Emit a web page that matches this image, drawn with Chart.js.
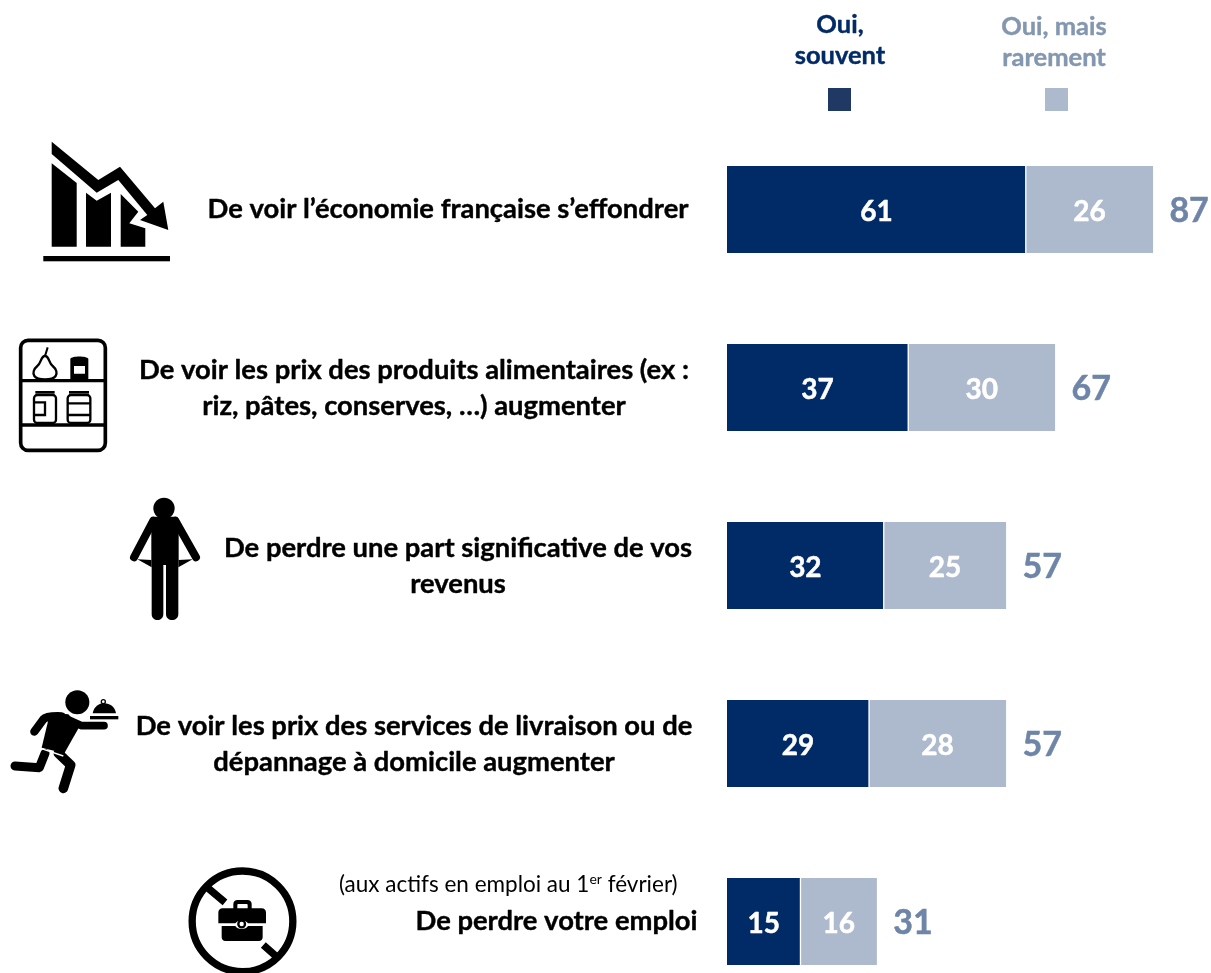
<!DOCTYPE html>
<html><head><meta charset="utf-8">
<style>html,body{margin:0;padding:0;background:#fff;overflow:hidden}#w{position:relative;width:1211px;height:973px}canvas{position:absolute;left:0;top:0}svg{position:absolute;left:0;top:0}</style>
<script src="https://cdn.jsdelivr.net/npm/chart.js@4"></script></head><body>
<div id="w"><canvas id="c" width="1211" height="973"></canvas>
<svg width="1211" height="973" viewBox="0 0 1211 973" fill="#000">
<!-- icon 1 -->
<polygon points="51.7,141.7 98.3,180 120,166.7 155,208.3 163.3,201.7 168.3,230 140,220 147.3,215 118.3,180 96.7,192.7 51.7,154"/>
<polygon points="51.7,163.3 76.7,183 76.7,246.7 51.7,246.7"/>
<polygon points="86,192.7 96.7,200.7 111,192.7 111,246.7 86,246.7"/>
<polygon points="120.7,194 138.3,211.7 129.3,223.3 145.3,228.3 145.3,246.7 120.7,246.7"/>
<rect x="43.3" y="256" width="126.7" height="5.3"/>
<!-- icon 2 -->
<g transform="translate(0,130) scale(0.33333)">
<g fill="none" stroke="#000">
<rect x="62" y="631" width="254" height="330" rx="22" stroke-width="11"/>
<path d="M62 752H316M62 885H316" stroke-width="10"/>
<path d="M143 652L135 678" stroke-width="6"/>
<path d="M135 678C122 678 124 700 112 708C100 718 98 730 103 738C110 748 125 748 135 748C145 748 160 748 167 738C172 730 170 718 158 708C146 700 148 678 135 678Z" stroke-width="7"/>
<rect x="102" y="795" width="66" height="84" rx="10" stroke-width="7"/>
<path d="M106 787H164" stroke-width="8"/>
<path d="M102 817H135V855H102" stroke-width="7"/>
<rect x="203" y="795" width="68" height="84" rx="10" stroke-width="7"/>
<path d="M207 787H267" stroke-width="8"/>
<path d="M203 820H271M203 855H271" stroke-width="7"/>
</g>
<path d="M211 686C216 677 260 677 265 686V750H211Z M222 708V731H255V708Z" fill-rule="evenodd"/>
</g>
<!-- icon 3 -->
<g transform="translate(0,480) scale(0.33333)">
<circle cx="492" cy="85" r="32"/>
<path d="M462 110H525C532 110 536 114 536 120V240H535V402C535 426 498 426 498 402V255H490V402C490 426 455 426 455 402V240H454V120C454 114 456 110 462 110Z"/>
<g fill="none" stroke="#000" stroke-width="24" stroke-linecap="round"><path d="M460 122L402 232M526 122L588 232"/></g>
<path d="M412 238L455 240V262ZM578 238L535 240V262Z"/>
</g>
<!-- icon 4 -->
<g transform="translate(0,685) scale(0.33333)">
<circle cx="232" cy="52" r="36"/>
<g fill="none" stroke="#000" stroke-linecap="round" stroke-linejoin="round">
<path d="M103 140L130 103Q140 92 185 94" stroke-width="25"/>
<path d="M195 100L245 122H312" stroke-width="23"/>
<path d="M135 205L118 248L45 243" stroke-width="27"/>
<path d="M175 205L212 240L190 310" stroke-width="29"/>
</g>
<polygon points="150,84 205,88 238,125 193,205 125,188"/>
<path d="M122 190L190 213" fill="none" stroke="#fff" stroke-width="4"/>
<path d="M278 85C282 65 296 55 312 55C330 55 345 66 348 85Z"/>
<circle cx="310" cy="50" r="6" fill="none" stroke="#000" stroke-width="4"/>
<rect x="270" y="93" width="85" height="10"/>
</g>
<!-- icon 5 -->
<g transform="translate(180,860) scale(0.33333)">
<g fill="none" stroke="#000" stroke-width="22"><circle cx="187.500" cy="184" r="151"/><path d="M85 85L135 127M250 255L295 295"/></g>
<path d="M128 145H160V132C160 124 166 120 172 120H203C209 120 215 124 215 132V145H245C253 145 258 150 258 158V190H204C198 180 172 180 166 190H115V158C115 150 120 145 128 145ZM172 145H203V136C203 133 202 132 199 132H176C173 132 172 133 172 136Z" fill-rule="evenodd"/>
<path d="M125 198H166C172 210 198 210 204 198H248V232C248 239 243 243 237 243H136C130 243 125 239 125 232Z"/>
<circle cx="185" cy="192" r="10" fill="none" stroke="#000" stroke-width="7"/>
</g>
</svg></div>
<script>
const categories=[
 ["De voir l’économie française s’effondrer"],
 ["De voir les prix des produits alimentaires (ex :","riz, pâtes, conserves, …) augmenter"],
 ["De perdre une part significative de vos","revenus"],
 ["De voir les prix des services de livraison ou de","dépannage à domicile augmenter"],
 ["De perdre votre emploi"]];
const souvent=[61,37,32,29,15];
const rarement=[26,30,25,28,15.6];
const totals=[87,67,57,57,31];
const seriesNames=[["Oui,","souvent"],["Oui, mais","rarement"]];
const note="(aux actifs en emploi au 1";
const noteSup="er";
const noteEnd=" février)";

const DARK="#002B66",LIGHT="#ADB9CD",TOTAL="#6E85A8";
const FONT='"Lato"';
const labelCenters=[448,414,458,414,556.5];

function boldText(c,t,x,y,w){c.lineWidth=w;c.strokeStyle=c.fillStyle;c.lineJoin='round';c.strokeText(t,x,y);c.fillText(t,x,y);}

const overlay={id:'overlay',afterDraw(ch){
 const c=ch.ctx,x=ch.scales.x,y=ch.scales.y;
 c.save();c.textBaseline='middle';
 c.textAlign='center';
 categories.forEach((_,i)=>{
  const yy=y.getPixelForValue(i)+2;
  c.font='bold 28px '+FONT;
  c.fillStyle='#fff';
  boldText(c,Math.round(souvent[i]),x.getPixelForValue(souvent[i]/2),yy,.5);
  boldText(c,Math.round(rarement[i]),x.getPixelForValue(souvent[i]+rarement[i]/2),yy,.5);
  c.fillStyle=TOTAL;c.font='bold 34px '+FONT;
  boldText(c,totals[i],x.getPixelForValue(souvent[i]+rarement[i])+36,yy,.5);
 });
 c.fillStyle='#000';c.font='bold 27.4px '+FONT;
 categories.forEach((ls,i)=>{
  const yy=y.getPixelForValue(i);
  ls.forEach((t,k)=>{
   const off=ls.length>1?(k-.5)*36:0;
   boldText(c,t,labelCenters[i],yy+off+(i==0||i==4?0:1),.4);
  });
 });
 c.font='22.5px '+FONT;c.textAlign='left';
 let nx=339;const ny=885;
 c.fillText(note,nx,ny);nx+=c.measureText(note).width;
 c.font='14px '+FONT;c.fillText(noteSup,nx,ny-6);nx+=c.measureText(noteSup).width;
 c.font='22.5px '+FONT;c.fillText(noteEnd,nx,ny);
 c.textAlign='center';c.font='bold 25.5px '+FONT;
 [[840,DARK,'#1F3864',840],[1054,'#8497B0',LIGHT,1057]].forEach((l,i)=>{
  c.fillStyle=l[1];
  seriesNames[i].forEach((t,k)=>boldText(c,t,l[0],(i?27:25)+k*31,.4));
  c.fillStyle=l[2];c.fillRect(l[3]-12,88,23,23);
 });
 c.restore();
}};

new Chart(document.getElementById('c'),{
 type:'bar',
 data:{labels:categories.map(l=>l.join(' ')),datasets:[
  {label:'Oui, souvent',data:souvent,backgroundColor:DARK,barThickness:87,clip:false,borderColor:'#fff',borderWidth:{left:0,right:1,top:0,bottom:0},borderSkipped:false},
  {label:'Oui, mais rarement',data:rarement,backgroundColor:LIGHT,barThickness:87,clip:false,borderColor:'#fff',borderWidth:{left:1,right:0,top:0,bottom:0},borderSkipped:false}
 ]},
 options:{indexAxis:'y',responsive:false,animation:false,
  layout:{padding:{left:727,right:4,top:209.5,bottom:51.5}},
  plugins:{legend:{display:false},tooltip:{enabled:false}},
  scales:{
   x:{stacked:true,display:false,min:0,max:98},
   y:{stacked:true,display:false,offset:false,grid:{display:false}}
  }},
 plugins:[overlay]
});
</script></body></html>
